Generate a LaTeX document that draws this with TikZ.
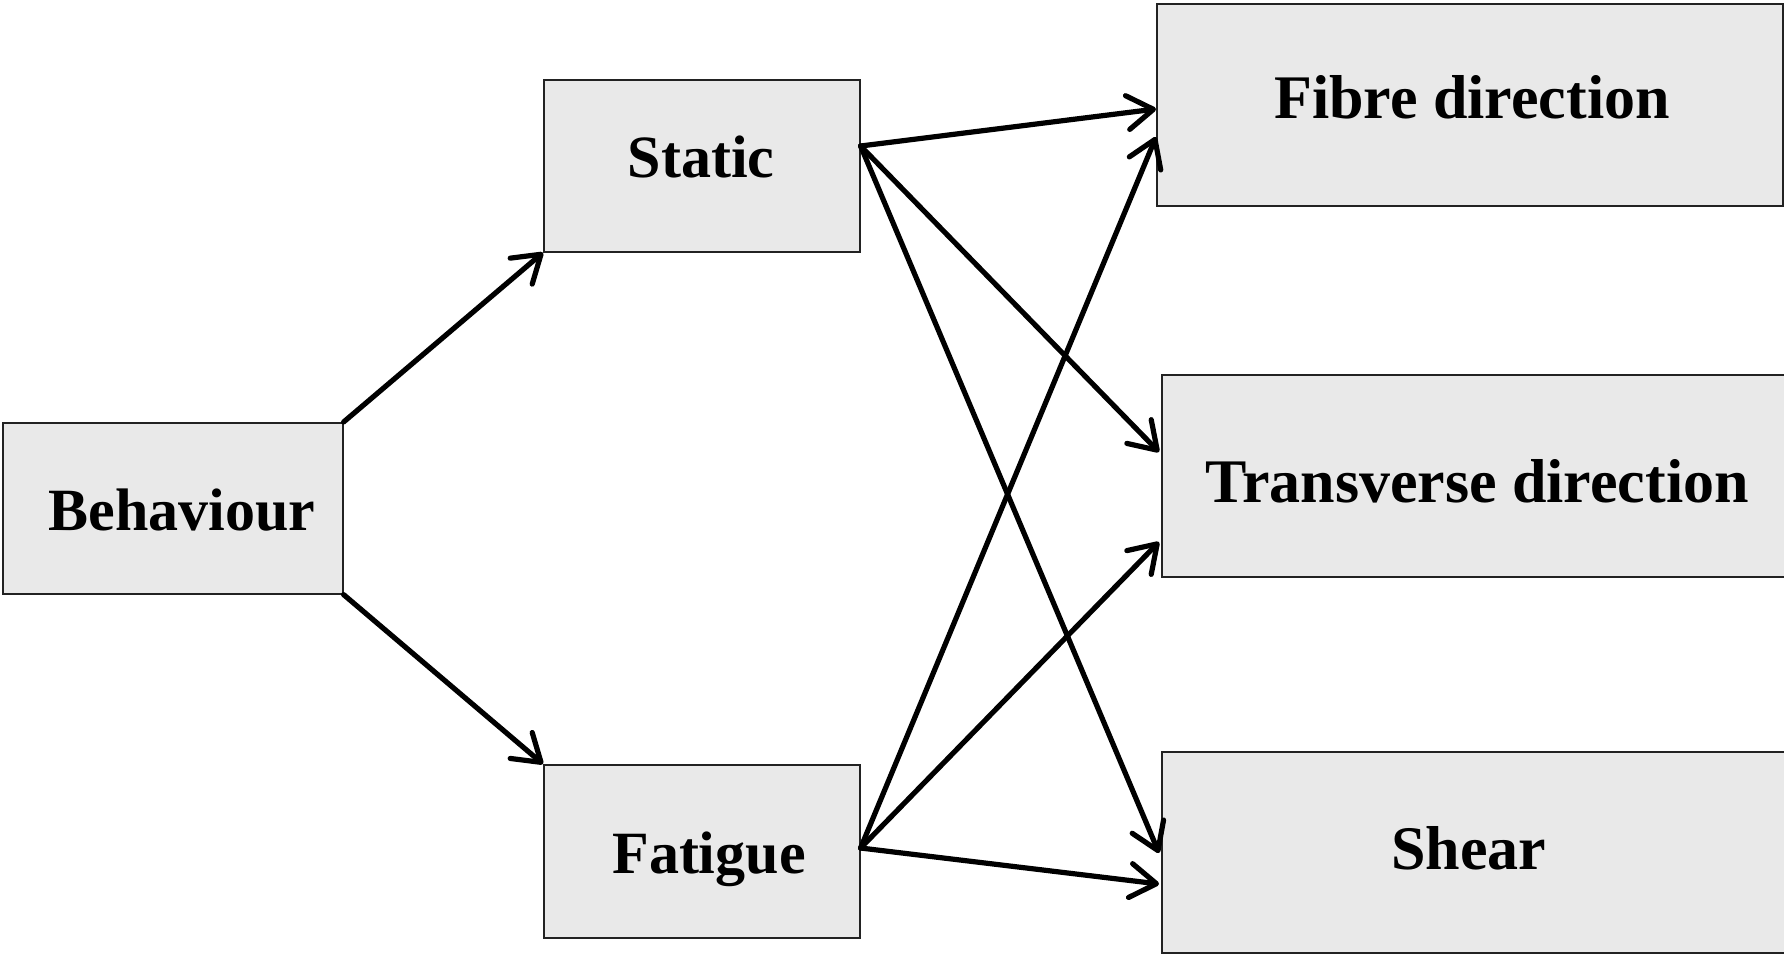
\documentclass[tikz,border=0pt]{standalone}
\usepackage{fontspec}
\setmainfont{Liberation Serif}
\newfontfamily\lfont{Liberation Serif}[BoldFont={* Bold}]
\usetikzlibrary{arrows.meta,calc}
\definecolor{boxfill}{HTML}{E9E9E9}
\definecolor{boxline}{HTML}{222222}
\tikzset{
  box/.style={draw=boxline, line width=1.6pt, fill=boxfill, inner sep=0pt, anchor=north west},
  ltext/.style={anchor=base, inner sep=0pt, font=\lfont\bfseries\fontsize{60}{70}\selectfont},
  rtext/.style={anchor=base, inner sep=0pt, font=\lfont\bfseries\fontsize{62}{72}\selectfont},
  conn/.style={line width=5.2pt, line cap=round, -{Straight Barb[length=26pt,width=34pt,line width=5.2pt,round]}}
}
\begin{document}
\begin{tikzpicture}[x=1pt,y=-1pt]
\useasboundingbox (0,0) rectangle (1784,953);
% boxes
\node[box, minimum width=340pt, minimum height=171pt] (beh) at (2,422) {};
\node[box, minimum width=316pt, minimum height=172pt] (sta) at (543,79) {};
\node[box, minimum width=316pt, minimum height=173pt] (fat) at (543,764) {};
\node[box, minimum width=626pt, minimum height=202pt] (fib) at (1156,3) {};
\node[box, minimum width=632pt, minimum height=202pt] (tra) at (1161,374) {};
\node[box, minimum width=632pt, minimum height=201pt] (she) at (1161,751) {};
% texts
\node[ltext] (tbeh) at (182,530) {Behaviour};
\node[ltext] (tsta) at (701,177) {Static};
\node[ltext] (tfat) at (709,873) {Fatigue};
\node[rtext] (tfib) at (1472,118) {Fibre direction};
\node[rtext] (ttra) at (1477,502) {Transverse direction};
\node[rtext] (tshe) at (1469,869) {Shear};
% anchor points
\coordinate (sOut) at ($(sta.north east)+(0,67)$);
\coordinate (fOut) at ($(fat.north east)+(0,84)$);
% connectors
\draw[conn] (beh.north east) -- (sta.south west);
\draw[conn] (beh.south east) -- (fat.north west);
\draw[conn] (sOut) -- ($(fib.north west)+(0,106)$);
\draw[conn] (sOut) -- ($(tra.north west)+(-2,78)$);
\draw[conn] (sOut) -- ($(she.north west)+(-2,102)$);
\draw[conn] (fOut) -- ($(fib.north west)+(0,134)$);
\draw[conn] (fOut) -- ($(tra.north west)+(-2,168)$);
\draw[conn] (fOut) -- ($(she.north west)+(-2,133)$);
\end{tikzpicture}
\end{document}
